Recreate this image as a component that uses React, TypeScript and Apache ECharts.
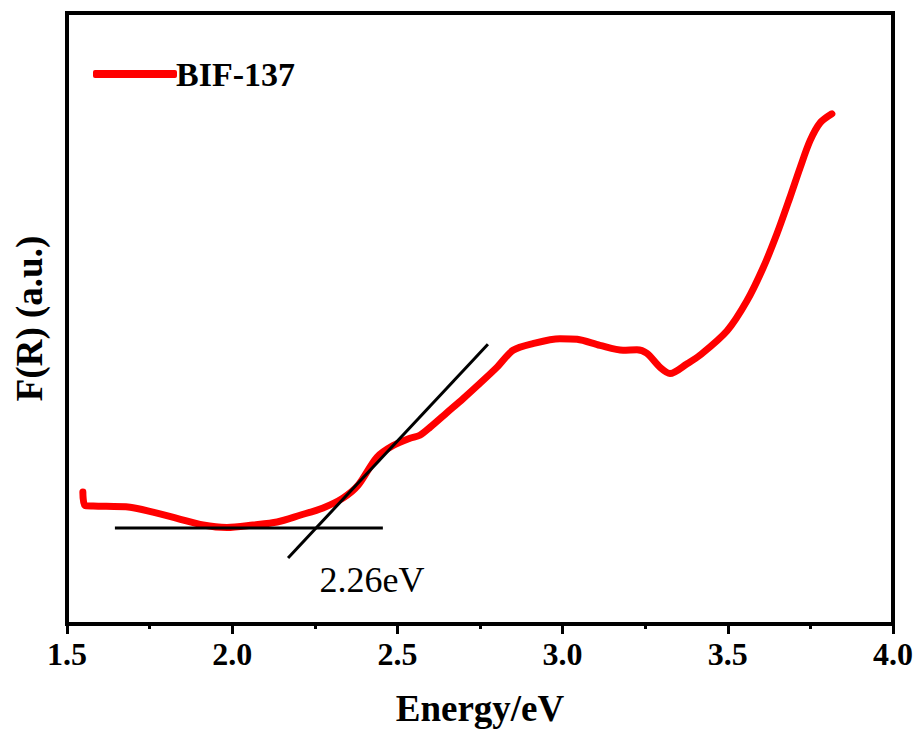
import React, { useEffect, useRef } from "react";
import * as echarts from "echarts";

const energy = [1.548, 1.554, 1.579, 1.691, 1.760, 1.833, 1.912, 1.984, 2.063, 2.136, 2.205, 2.275, 2.335, 2.381, 2.438, 2.487, 2.538, 2.568, 2.599, 2.650, 2.699, 2.750, 2.801, 2.850, 2.910, 2.992, 3.044, 3.113, 3.183, 3.225, 3.255, 3.295, 3.325, 3.377, 3.416, 3.498, 3.558, 3.607, 3.649, 3.688, 3.719, 3.749, 3.779, 3.815];
const fr = [21.6, 19.4, 19.3, 19.1, 18.3, 17.3, 16.2, 15.8, 16.2, 16.7, 17.8, 19.0, 20.6, 22.7, 27.3, 29.2, 30.4, 30.9, 32.2, 34.6, 36.9, 39.4, 42.0, 44.8, 45.9, 46.7, 46.6, 45.6, 44.8, 44.9, 44.3, 42.0, 41.0, 42.6, 44.0, 48.0, 52.9, 58.3, 63.9, 69.8, 74.7, 79.1, 82.0, 83.5];

const baselineX = [1.645, 2.456];
const baselineY = [15.7, 15.7];
const tangentX = [2.169, 2.774];
const tangentY = [10.8, 45.8];

const annotationPos = [2.423, 7.2];
const annotationText = "2.26eV";
const seriesName = "BIF-137";

const xTicksMin = 1.5;
const xTicksMax = 4.0;
const xInterval = 0.5;

export default function App() {
  const ref = useRef<HTMLDivElement>(null);
  useEffect(() => {
    if (!ref.current) return;
    const chart = echarts.init(ref.current, null, { renderer: "svg" });
    const font = "Liberation Serif";
    chart.setOption({
      animation: false,
      backgroundColor: "#fff",
      textStyle: { fontFamily: font },
      grid: {
        left: 67,
        right: 26,
        top: 13,
        bottom: 109,
        show: true,
        borderColor: "#000",
        borderWidth: 4,
      },
      legend: {
        left: 88,
        top: 52,
        itemWidth: 84,
        itemHeight: 8,
        itemGap: 0,
        icon: "roundRect",
        textStyle: {
          fontFamily: font,
          fontWeight: "bold",
          fontSize: 34,
          color: "#000",
          padding: [0, 0, 0, -6],
        },
        data: [seriesName],
      },
      xAxis: {
        type: "value",
        min: xTicksMin,
        max: xTicksMax,
        interval: xInterval,
        name: "Energy/eV",
        nameLocation: "middle",
        nameGap: 66,
        nameTextStyle: { fontFamily: font, fontWeight: "bold", fontSize: 37, color: "#000" },
        axisLine: { show: true, lineStyle: { color: "#000", width: 4 } },
        axisTick: { show: true, inside: false, length: 10, lineStyle: { color: "#000", width: 3 } },
        minorTick: { show: true, splitNumber: 2, length: 5, lineStyle: { color: "#000", width: 3 } },
        axisLabel: {
          fontFamily: font,
          fontWeight: "bold",
          fontSize: 32,
          color: "#000",
          margin: 14,
          formatter: (v: number) => v.toFixed(1),
        },
        splitLine: { show: false },
      },
      yAxis: {
        type: "value",
        min: 0,
        max: 100,
        name: "F(R) (a.u.)",
        nameLocation: "middle",
        nameGap: 19,
        nameTextStyle: { fontFamily: font, fontWeight: "bold", fontSize: 37, color: "#000" },
        axisLine: { show: true, lineStyle: { color: "#000", width: 4 } },
        axisTick: { show: false },
        axisLabel: { show: false },
        splitLine: { show: false },
      },
      series: [
        {
          name: seriesName,
          type: "line",
          data: energy.map((x, i) => [x, fr[i]]),
          showSymbol: false,
          symbol: "none",
          smooth: 0.3,
          itemStyle: { color: "#ff0000" },
          lineStyle: { color: "#ff0000", width: 7, cap: "round", join: "round" },
          z: 3,
        },
        {
          name: "baseline",
          type: "line",
          data: baselineX.map((x, i) => [x, baselineY[i]]),
          showSymbol: false,
          symbol: "none",
          lineStyle: { color: "#000", width: 3 },
          z: 4,
        },
        {
          name: "tangent",
          type: "line",
          data: tangentX.map((x, i) => [x, tangentY[i]]),
          showSymbol: false,
          symbol: "none",
          lineStyle: { color: "#000", width: 3 },
          z: 4,
        },
        {
          name: "annotation",
          type: "scatter",
          symbolSize: 1,
          itemStyle: { color: "rgba(0,0,0,0)", opacity: 1 },
          data: [annotationPos],
          label: {
            show: true,
            position: "inside",
            formatter: annotationText,
            fontFamily: font,
            fontSize: 36,
            color: "#000",
            opacity: 1,
          },
          z: 5,
        },
      ],
    });
    return () => chart.dispose();
  }, []);
  return <div ref={ref} style={{ width: 919, height: 733, position: "absolute", left: 0, top: 0 }} />;
}
